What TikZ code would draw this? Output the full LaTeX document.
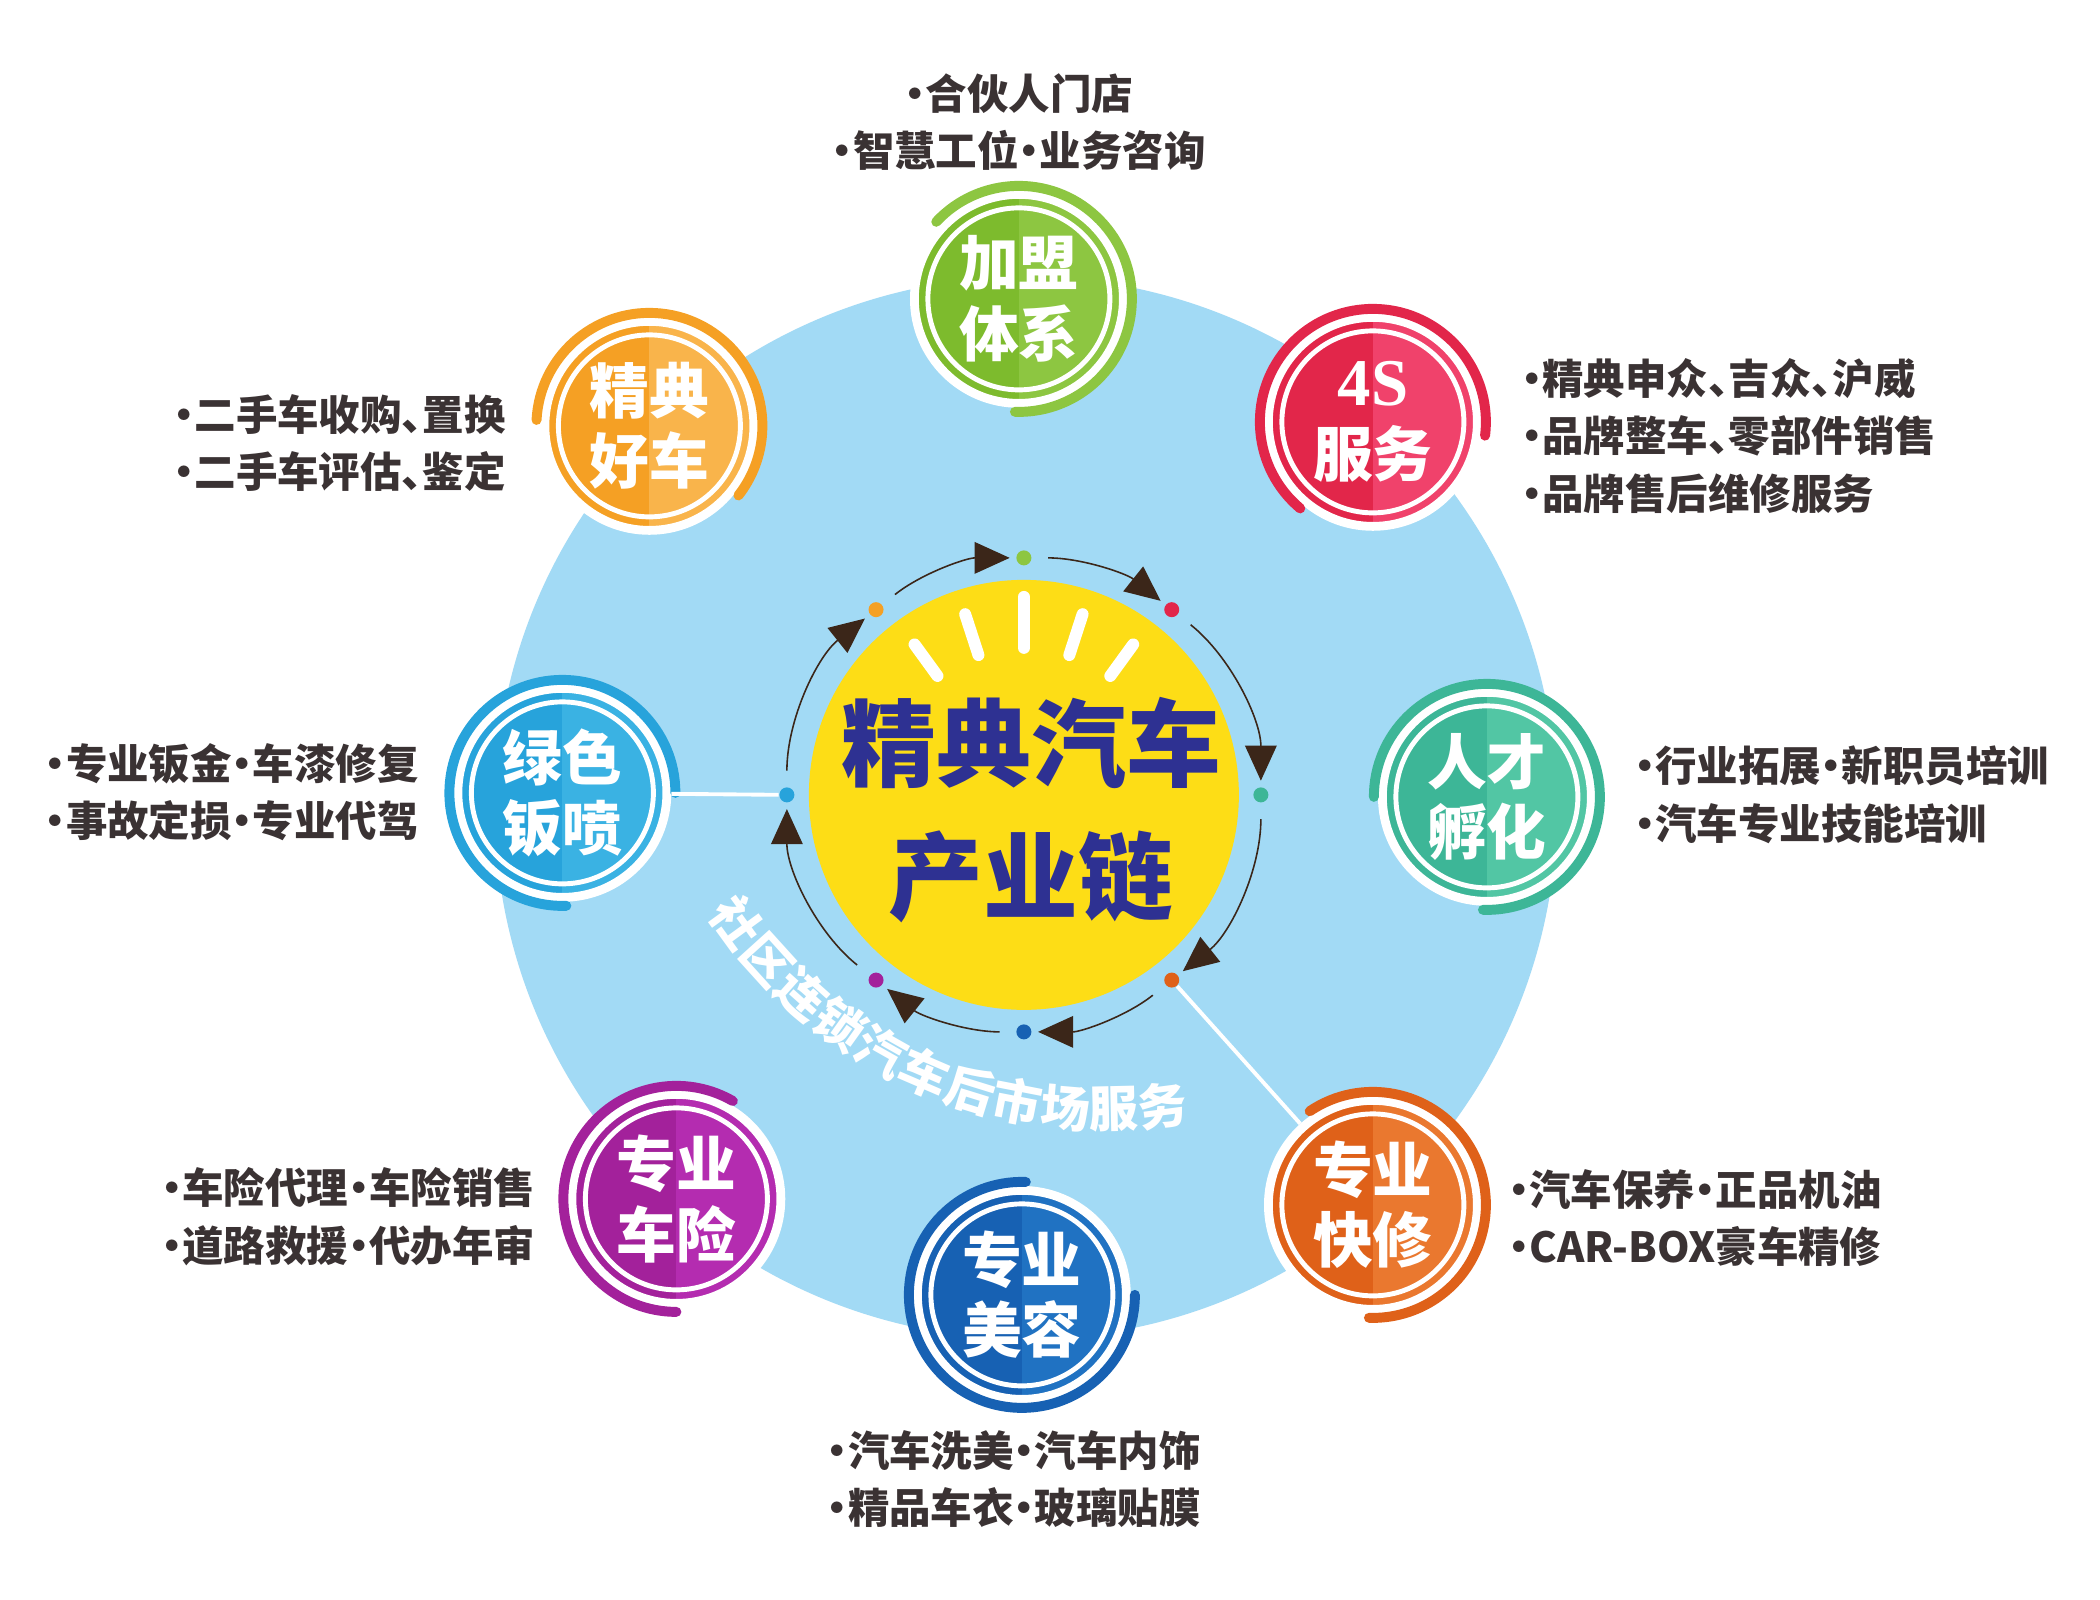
\documentclass[tikz,border=0pt]{standalone}
\usepackage{fontspec}
\setmainfont{Noto Sans CJK SC}
\newfontfamily\latinserif{Liberation Serif}
\usetikzlibrary{arrows.meta,positioning,calc}

\definecolor{skyback}{HTML}{A2DAF5}
\definecolor{sunyellow}{HTML}{FDDD16}
\definecolor{titleblue}{HTML}{2E3192}
\definecolor{bodygray}{HTML}{3A3233}
\definecolor{arrowbrown}{HTML}{3B2619}
\definecolor{greendark}{HTML}{7DBB2D}
\definecolor{greenlight}{HTML}{8DC641}
\definecolor{reddark}{HTML}{E2264A}
\definecolor{redlight}{HTML}{F0426B}
\definecolor{tealdark}{HTML}{3DB697}
\definecolor{teallight}{HTML}{52C6A4}
\definecolor{orangedark}{HTML}{DF6119}
\definecolor{orangelight}{HTML}{EA782F}
\definecolor{bluedark}{HTML}{1761B3}
\definecolor{bluelight}{HTML}{2072C2}
\definecolor{purpledark}{HTML}{A3219B}
\definecolor{purplelight}{HTML}{B42CB0}
\definecolor{cyandark}{HTML}{27A3DB}
\definecolor{cyanlight}{HTML}{3AB2E3}
\definecolor{golddark}{HTML}{F5A024}
\definecolor{goldlight}{HTML}{F9B44B}

% half-width punctuation
\newcommand\hdot{\makebox[0.5em][c]{·}}
\newcommand\hcomma{\makebox[0.5em][l]{、}}

\tikzset{
  badge/.style 2 args={circle, draw=white, line width=2.5pt, fill=#1, minimum size=2.09cm, inner sep=0pt,
    text=white, align=center, font=\fontsize{17}{20}\selectfont\bfseries,
    path picture={\fill[#2] (path picture bounding box.north) rectangle (path picture bounding box.south east);
      \draw[white, line width=1.4pt] (path picture bounding box.center) circle (0.91cm);}}
}

\begin{document}
\begin{tikzpicture}
    \tikzstyle{ring} = [line width=2.83pt, line cap=round]
    \tikzstyle{dot} = [circle, minimum size=0.15cm, inner sep=0pt]
    \tikzstyle{arrow} = [draw=arrowbrown, line width=0.45pt, -{Triangle[length=10pt, width=9pt]}, looseness=0.9, shorten <=0.16cm, shorten >=0.06cm]
    \tikzstyle{link} = [draw=white, line width=1.1pt]
    \tikzstyle{info} = [text=bodygray, font=\fontsize{11.8}{16.3}\selectfont\bfseries, inner sep=0pt, align=left]
    \tikzstyle{arctext} = [text=white, font=\fontsize{14}{14}\selectfont\bfseries, inner sep=0pt]
    \tikzstyle{ray} = [draw=white, line width=3.4pt, line cap=round]

    % Canvas
    \fill[white] (-10.239,-8.051) rectangle (10.761,7.949);
    \useasboundingbox (-10.239,-8.051) rectangle (10.761,7.949);
    \fill[skyback] (0.02,-0.13) circle (5.31);

    % Center
    \node[circle, fill=sunyellow, minimum size=4.3cm, inner sep=0pt] (sun) at (0,0) {};
    \draw[ray] (90:1.47) -- (90:1.98);
    \draw[ray] (72:1.47) -- (72:1.9);
    \draw[ray] (108:1.47) -- (108:1.9);
    \draw[ray] (54:1.47) -- (54:1.86);
    \draw[ray] (126:1.47) -- (126:1.86);
    \node[font=\fontsize{27}{38}\selectfont\bfseries, text=titleblue, align=center] (title) at (0.074,-0.154) {精典汽车\\产业链};

    % Ring of dots
    \node[dot, fill=greenlight] (dtop) at (90:2.37) {};
    \node[dot, fill=reddark] (dred) at (51.4:2.37) {};
    \node[dot, fill=tealdark] (dteal) at (0:2.37) {};
    \node[dot, fill=orangedark] (dorange) at (-51.4:2.37) {};
    \node[dot, fill=bluedark] (dblue) at (-90:2.37) {};
    \node[dot, fill=purpledark] (dpurple) at (-128.6:2.37) {};
    \node[dot, fill=cyandark] (dcyan) at (180:2.37) {};
    \node[dot, fill=golddark] (dgold) at (128.6:2.37) {};

    % Arrows
    \draw[arrow] (dgold) to[bend left=19.3] (dtop);
    \draw[arrow] (dtop) to[bend left=19.3] (dred);
    \draw[arrow] (dred) to[bend left=25.7] (dteal);
    \draw[arrow] (dteal) to[bend left=25.7] (dorange);
    \draw[arrow] (dorange) to[bend left=19.3] (dblue);
    \draw[arrow] (dblue) to[bend left=19.3] (dpurple);
    \draw[arrow] (dpurple) to[bend left=25.7] (dcyan);
    \draw[arrow] (dcyan) to[bend left=25.7] (dgold);

    % Curved slogan
    \coordinate (arcc) at (0.802,1.392);
    \foreach \ch [count=\i from 0] in {社,区,连,锁,汽,车,后,市,场,服,务}
        \node[arctext, rotate={306+6.14*\i}] at ([shift={(216+6.14*\i:4.54)}]arcc) {\ch};

    % Badges
    \node[badge={greendark}{greenlight}] (join) at (-0.05,4.96) {加盟\\体系};
    \node[badge={reddark}{redlight}] (fours) at (3.49,3.73) {{\latinserif\fontsize{19}{20}\selectfont\bfseries 4S}\\服务};
    \node[badge={tealdark}{teallight}] (talent) at (4.63,-0.02) {人才\\孵化};
    \node[badge={orangedark}{orangelight}] (repair) at (3.49,-4.10) {专业\\快修};
    \node[badge={bluedark}{bluelight}] (beauty) at (-0.02,-5.0) {专业\\美容};
    \node[badge={purpledark}{purplelight}] (insure) at (-3.475,-4.04) {专业\\车险};
    \node[badge={cyandark}{cyanlight}] (paint) at (-4.615,0.02) {绿色\\钣喷};
    \node[badge={golddark}{goldlight}] (usedcar) at (-3.745,3.69) {精典\\好车};

    % Outer arcs
    \draw[ring, greenlight] ([shift={(137:1.13)}]join.center) arc[start angle=137, end angle=-92, radius=1.13];
    \draw[ring, reddark] ([shift={(230:1.13)}]fours.center) arc[start angle=230, end angle=-7, radius=1.13];
    \draw[ring, tealdark] ([shift={(180:1.13)}]talent.center) arc[start angle=180, end angle=-92, radius=1.13];
    \draw[ring, orangedark] ([shift={(124:1.13)}]repair.center) arc[start angle=124, end angle=-92, radius=1.13];
    \draw[ring, bluedark] ([shift={(88:1.13)}]beauty.center) arc[start angle=88, end angle=360, radius=1.13];
    \draw[ring, purpledark] ([shift={(60:1.13)}]insure.center) arc[start angle=60, end angle=270, radius=1.13];
    \draw[ring, cyandark] ([shift={(0:1.13)}]paint.center) arc[start angle=0, end angle=272, radius=1.13];
    \draw[ring, golddark] ([shift={(177:1.13)}]usedcar.center) arc[start angle=177, end angle=-38, radius=1.13];

    % Links
    \draw[link] (paint) -- (dcyan);
    \draw[link] (repair) -- (dorange);

    % Service lists
    \node[info, align=center] (joininfo) at (-0.05,6.73) {\hdot 合伙人门店\\\hdot 智慧工位\hdot 业务咨询};
    \node[info, anchor=west] (foursinfo) at (4.97,3.59) {\hdot 精典申众\hcomma 吉众\hcomma 沪威\\\hdot 品牌整车\hcomma 零部件销售\\\hdot 品牌售后维修服务};
    \node[info, anchor=west] (talentinfo) at (6.10,0) {\hdot 行业拓展\hdot 新职员培训\\\hdot 汽车专业技能培训};
    \node[info, anchor=west] (repairinfo) at (4.84,-4.232) {\hdot 汽车保养\hdot 正品机油\\\hdot CAR-BOX豪车精修};
    \node[info, align=center] (beautyinfo) at (-0.10,-6.844) {\hdot 汽车洗美\hdot 汽车内饰\\\hdot 精品车衣\hdot 玻璃贴膜};
    \node[info, anchor=east] (insureinfo) at (-4.882,-4.219) {\hdot 车险代理\hdot 车险销售\\\hdot 道路救援\hdot 代办年审};
    \node[info, anchor=east] (paintinfo) at (-6.047,0.027) {\hdot 专业钣金\hdot 车漆修复\\\hdot 事故定损\hdot 专业代驾};
    \node[info, anchor=east] (usedcarinfo) at (-5.176,3.516) {\hdot 二手车收购\hcomma 置换\\\hdot 二手车评估\hcomma 鉴定};
\end{tikzpicture}
\end{document}
